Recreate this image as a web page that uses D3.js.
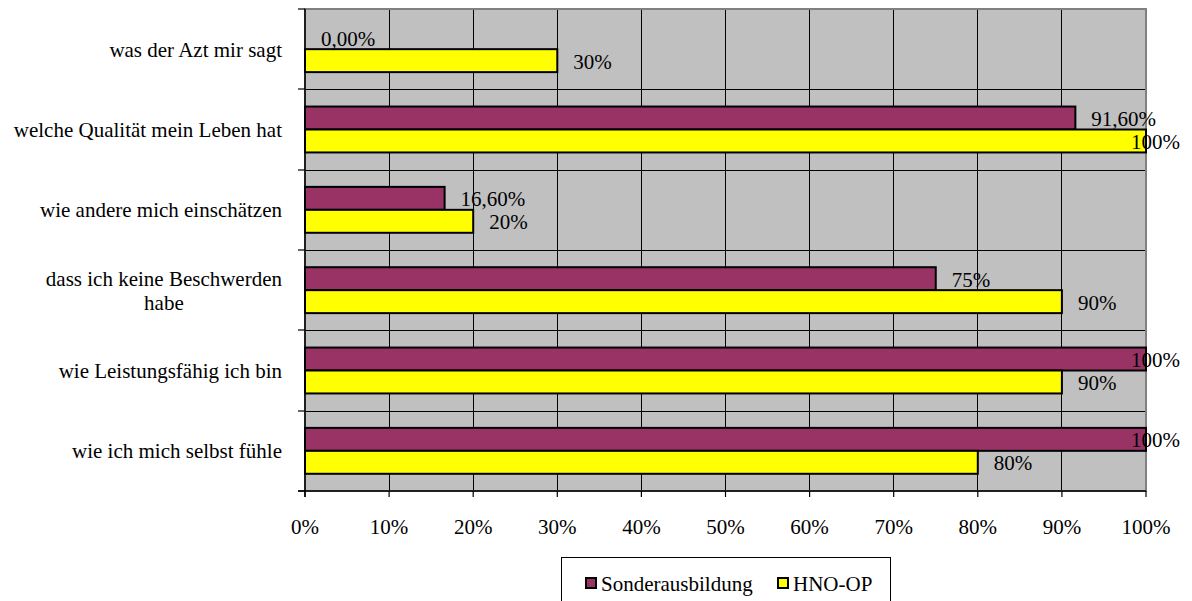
<!DOCTYPE html>
<html>
<head>
<meta charset="utf-8">
<script src="https://cdn.jsdelivr.net/npm/d3@7"></script>
<style>
  html, body { margin: 0; padding: 0; background: #fff; }
  svg text { font-family: 'Liberation Serif', 'DejaVu Serif', serif; fill: #000; }
</style>
</head>
<body>
<svg id="chart" width="1192" height="601" font-family="Liberation Serif, DejaVu Serif, serif"></svg>
<script>
// ---- data ----
const categories = [
  "was der Azt mir sagt",
  "welche Qualität mein Leben hat",
  "wie andere mich einschätzen",
  "dass ich keine Beschwerden habe",
  "wie Leistungsfähig ich bin",
  "wie ich mich selbst fühle"
];
const seriesNames = ["Sonderausbildung", "HNO-OP"];
const sonderValues = [0, 91.6, 16.6, 75, 100, 100];
const hnoValues = [30, 100, 20, 90, 90, 80];
const sonderLabels = ["0,00%", "91,60%", "16,60%", "75%", "100%", "100%"];
const hnoLabels = ["30%", "100%", "20%", "90%", "90%", "80%"];
const xTicks = [0, 10, 20, 30, 40, 50, 60, 70, 80, 90, 100];
const xTickLabels = ["0%", "10%", "20%", "30%", "40%", "50%", "60%", "70%", "80%", "90%", "100%"];
const categoryLines = [
  ["was der Azt mir sagt"],
  ["welche Qualität mein Leben hat"],
  ["wie andere mich einschätzen"],
  ["dass ich keine Beschwerden", "habe"],
  ["wie Leistungsfähig ich bin"],
  ["wie ich mich selbst fühle"]
];
const colors = ["#993366", "#FFFF00"];

// ---- layout ----
const FONT = "'Liberation Serif', 'DejaVu Serif', serif";
const svg = d3.select("#chart");
const plot = { left: 305, top: 9, right: 1146, bottom: 491 };
const fontSize = 21;

const x = d3.scaleLinear().domain([0, 100]).range([plot.left, plot.right]);
const y = d3.scaleBand().domain(categories).range([plot.top, plot.bottom]).padding(0);
const ySub = d3.scaleBand().domain(seriesNames).range([0, y.bandwidth()])
  .paddingInner(0).paddingOuter(0.75);

// background
svg.append("rect")
  .attr("x", plot.left).attr("y", plot.top)
  .attr("width", plot.right - plot.left).attr("height", plot.bottom - plot.top)
  .attr("fill", "#C0C0C0");

// vertical gridlines
svg.append("g").selectAll("line").data(xTicks.slice(1, -1)).join("line")
  .attr("x1", d => x(d)).attr("x2", d => x(d))
  .attr("y1", plot.top).attr("y2", plot.bottom)
  .attr("stroke", "#000").attr("stroke-width", 1).attr("shape-rendering", "crispEdges");

// horizontal gridlines at band boundaries
const bounds = categories.map(c => y(c)).concat([plot.bottom]);
svg.append("g").selectAll("line").data(bounds.slice(1, -1)).join("line")
  .attr("x1", plot.left).attr("x2", plot.right)
  .attr("y1", d => Math.round(d)).attr("y2", d => Math.round(d))
  .attr("stroke", "#000").attr("stroke-width", 1).attr("shape-rendering", "crispEdges");

// plot border (gray)
svg.append("rect")
  .attr("x", plot.left).attr("y", plot.top)
  .attr("width", plot.right - plot.left).attr("height", plot.bottom - plot.top)
  .attr("fill", "none").attr("stroke", "#808080").attr("stroke-width", 2);

// bars
const rows = categories.map((c, i) => ({
  cat: c,
  vals: [
    { s: seriesNames[0], v: sonderValues[i], label: sonderLabels[i], color: colors[0] },
    { s: seriesNames[1], v: hnoValues[i], label: hnoLabels[i], color: colors[1] }
  ]
}));

const groups = svg.append("g").selectAll("g").data(rows).join("g")
  .attr("transform", d => `translate(0,${y(d.cat)})`);

groups.selectAll("rect").data(d => d.vals.filter(v => v.v > 0)).join("rect")
  .attr("x", x(0))
  .attr("y", d => ySub(d.s))
  .attr("width", d => x(d.v) - x(0))
  .attr("height", ySub.bandwidth())
  .attr("fill", d => d.color)
  .attr("stroke", "#000").attr("stroke-width", 2);

// data labels
const chartRight = 1180;
groups.selectAll("text").data(d => d.vals).join("text")
  .attr("y", d => ySub(d.s) + ySub.bandwidth() / 2)
  .attr("dy", "0.38em")
  .style("font-family", FONT)
  .attr("font-size", fontSize)
  .text(d => d.label)
  .each(function(d) {
    const w = this.getComputedTextLength();
    let px = x(d.v) + 16;
    if (px + w > chartRight) px = chartRight - w;
    d3.select(this).attr("x", px);
  });

// left axis
svg.append("line")
  .attr("x1", plot.left).attr("x2", plot.left)
  .attr("y1", plot.top).attr("y2", plot.bottom + 6)
  .attr("stroke", "#000").attr("stroke-width", 1.5);
svg.append("g").selectAll("line").data(bounds).join("line")
  .attr("x1", plot.left - 7).attr("x2", plot.left)
  .attr("y1", d => Math.round(d)).attr("y2", d => Math.round(d))
  .attr("stroke", "#000").attr("stroke-width", 1.2);

// bottom axis
svg.append("line")
  .attr("x1", plot.left - 7).attr("x2", plot.right)
  .attr("y1", plot.bottom).attr("y2", plot.bottom)
  .attr("stroke", "#000").attr("stroke-width", 1.5);
svg.append("g").selectAll("line").data(xTicks).join("line")
  .attr("x1", d => x(d)).attr("x2", d => x(d))
  .attr("y1", plot.bottom).attr("y2", plot.bottom + 6)
  .attr("stroke", "#000").attr("stroke-width", 1.2);
svg.append("g").selectAll("text").data(xTicks).join("text")
  .attr("x", d => x(d)).attr("y", 534)
  .attr("text-anchor", "middle").attr("font-size", fontSize)
  .style("font-family", FONT)
  .text((d, i) => xTickLabels[i]);

// category labels
const catG = svg.append("g");
categories.forEach((c, i) => {
  const lines = categoryLines[i];
  const cy = y(c) + y.bandwidth() / 2;
  const lh = 24;
  const t = catG.append("text").attr("font-size", fontSize).style("font-family", FONT);
  const tmp = t.append("tspan").text(lines[0]);
  const w0 = tmp.node().getComputedTextLength();
  tmp.remove();
  const rightX = 282;
  const centerX = rightX - w0 / 2;
  lines.forEach((ln, j) => {
    t.append("tspan")
      .attr("x", lines.length > 1 ? centerX : rightX)
      .attr("text-anchor", lines.length > 1 ? "middle" : "end")
      .attr("y", cy - (lines.length - 1) * lh / 2 + j * lh)
      .attr("dy", "0.35em")
      .text(ln);
  });
});

// legend
const lg = svg.append("g");
lg.append("rect")
  .attr("x", 561.5).attr("y", 557.5).attr("width", 329).attr("height", 60)
  .attr("fill", "#fff").attr("stroke", "#000").attr("stroke-width", 1);
const legendItems = [
  { name: seriesNames[0], color: colors[0], sx: 586, tx: 601 },
  { name: seriesNames[1], color: colors[1], sx: 778, tx: 793 }
];
lg.selectAll("rect.sw").data(legendItems).join("rect")
  .attr("class", "sw")
  .attr("x", d => d.sx).attr("y", 578).attr("width", 10).attr("height", 10)
  .attr("fill", d => d.color).attr("stroke", "#000").attr("stroke-width", 2);
lg.selectAll("text").data(legendItems).join("text")
  .attr("x", d => d.tx).attr("y", 591).attr("font-size", fontSize)
  .style("font-family", FONT)
  .text(d => d.name);
</script>
</body>
</html>
